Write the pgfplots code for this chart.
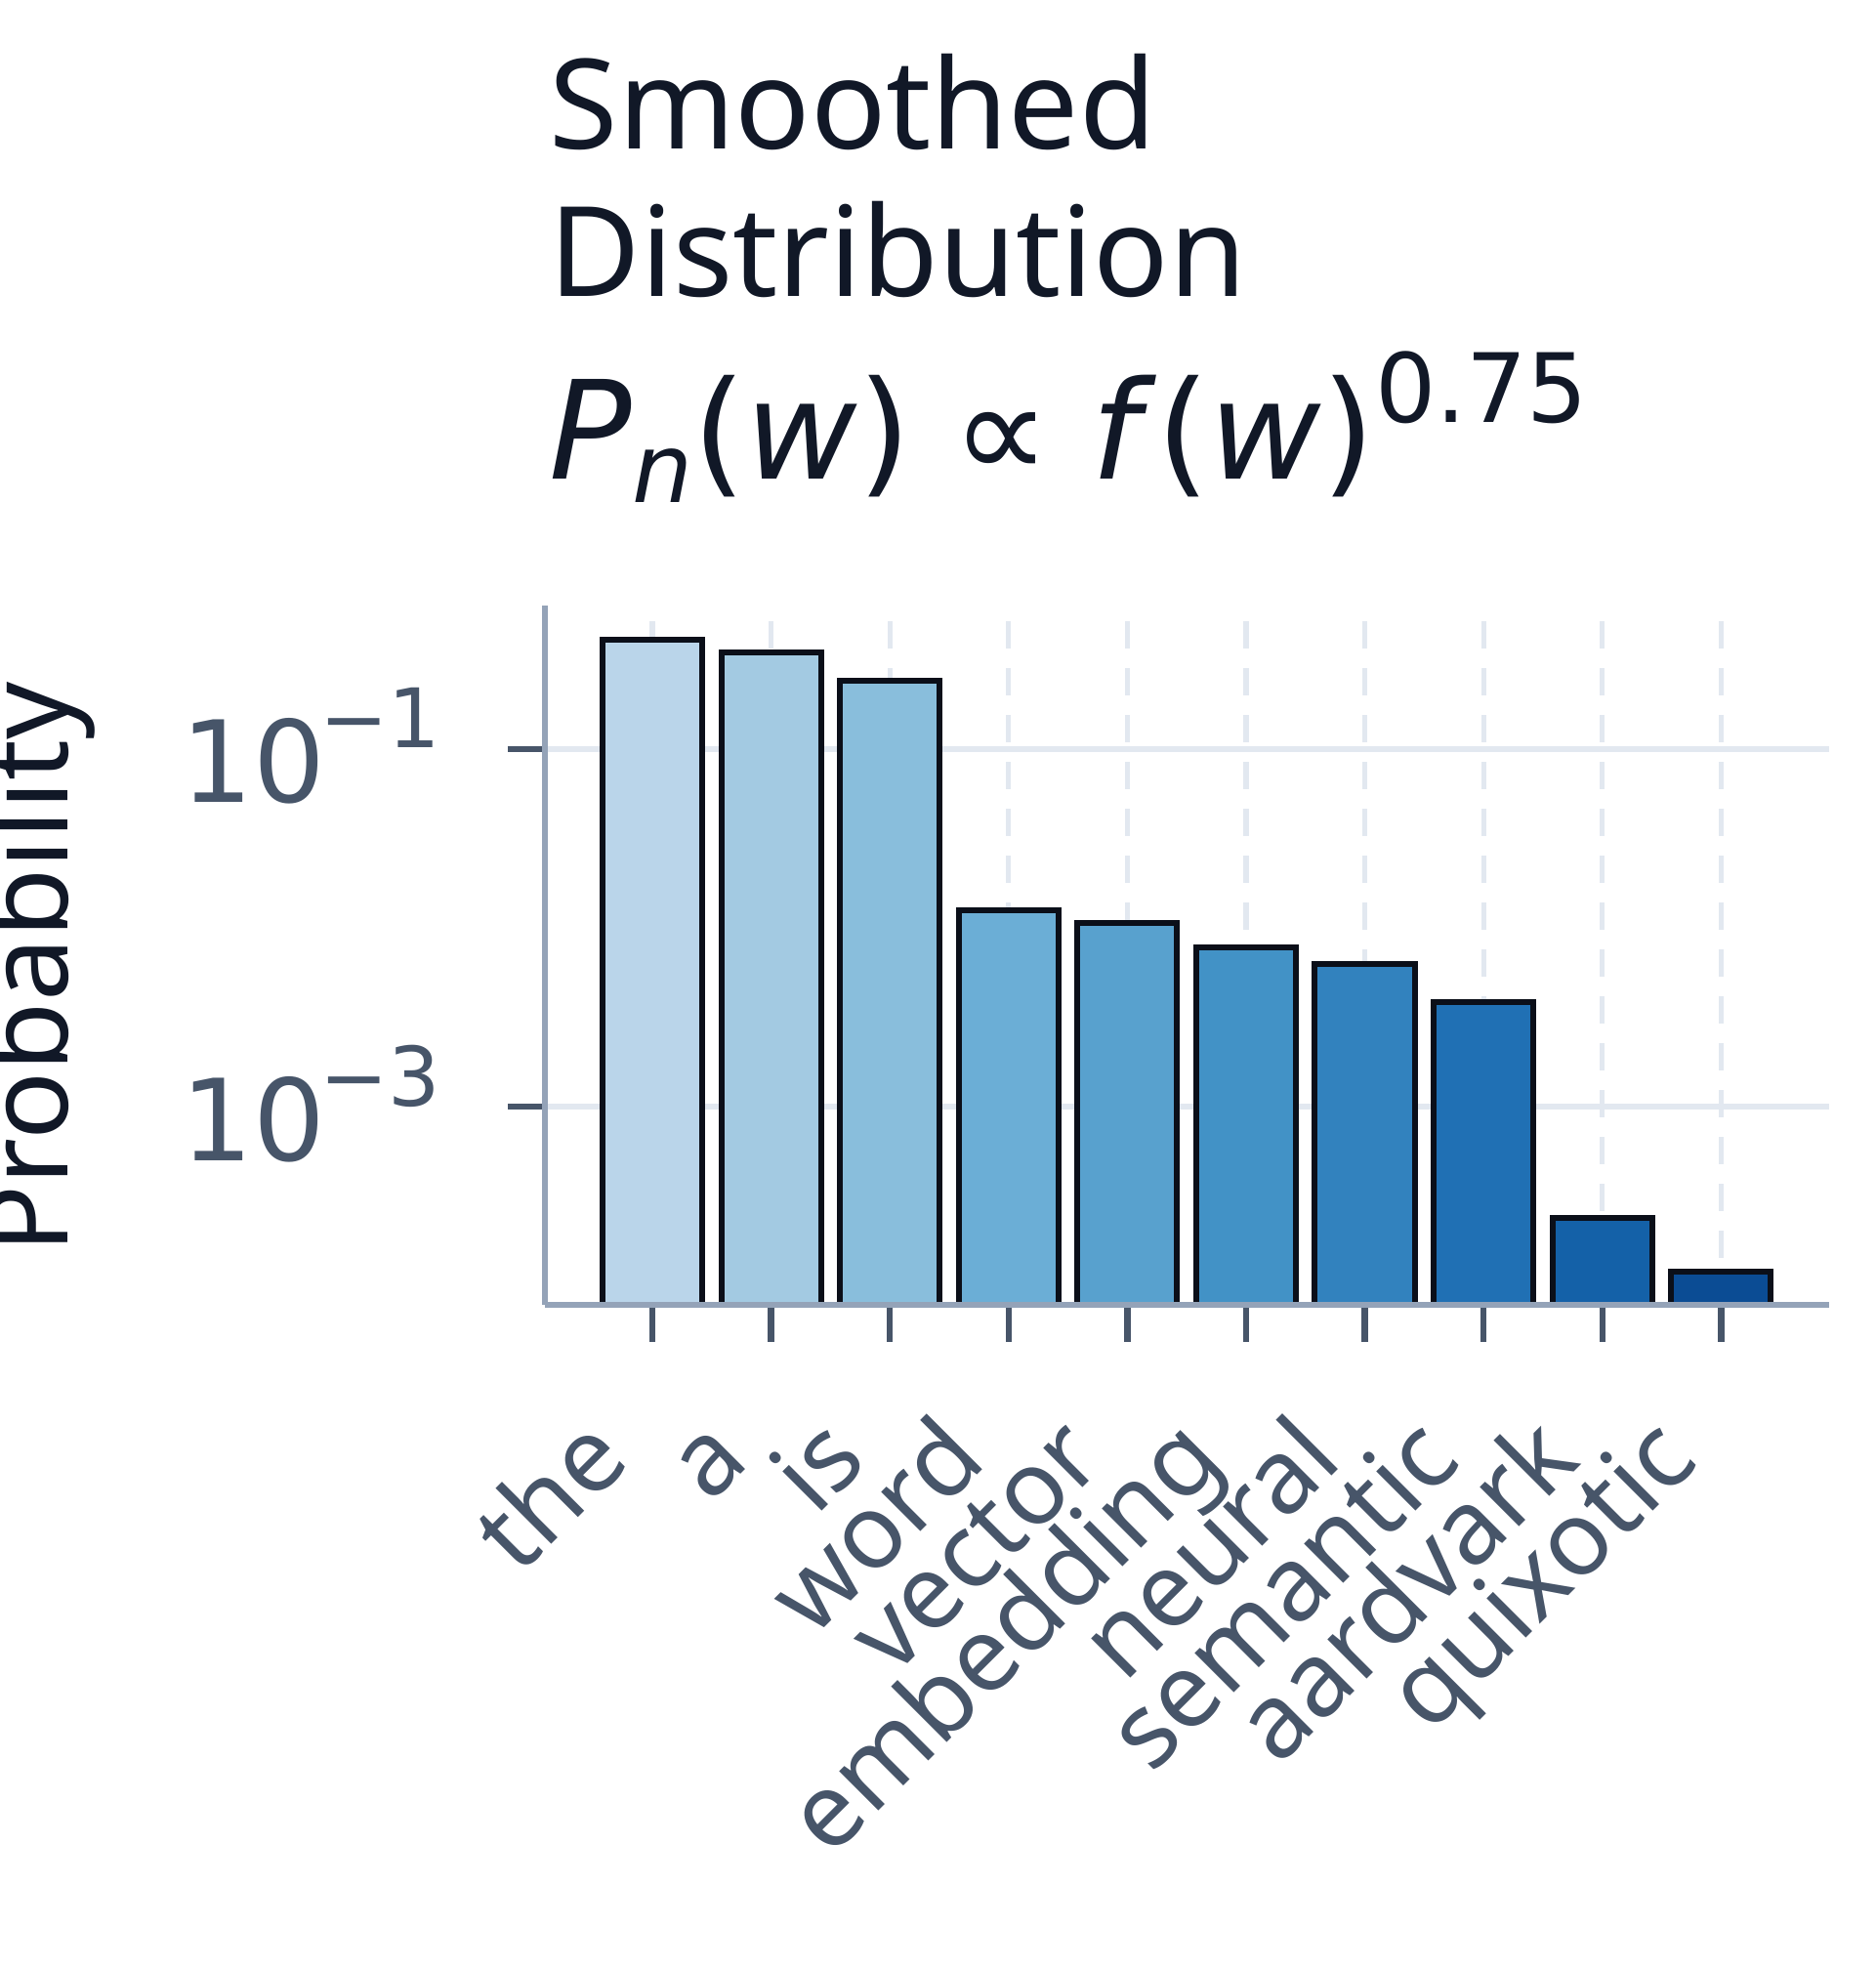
\documentclass[border=0pt]{standalone}
\usepackage{fontspec}
\setmainfont{Noto Sans}
\newfontfamily\dejavu{DejaVu Sans}
\usepackage{pgfplots}
\pgfplotsset{compat=1.18}

\definecolor{titlec}{HTML}{111827}
\definecolor{tickc}{HTML}{475569}
\definecolor{axisc}{HTML}{94A3B8}
\definecolor{gridc}{HTML}{E2E8F0}
\definecolor{edge}{HTML}{0B0F19}
\definecolor{b1}{HTML}{BAD5EA}
\definecolor{b2}{HTML}{A3CAE2}
\definecolor{b3}{HTML}{89BEDC}
\definecolor{b4}{HTML}{6BAED6}
\definecolor{b5}{HTML}{58A1CE}
\definecolor{b6}{HTML}{4292C6}
\definecolor{b7}{HTML}{3282BE}
\definecolor{b8}{HTML}{2070B4}
\definecolor{b9}{HTML}{1461A8}
\definecolor{b10}{HTML}{0B4C94}

\pgfplotsset{
  wbar/.style={ybar, bar shift=0pt, bar width=0.84, draw=edge, line width=1.5pt, fill=#1},
}

\newcommand{\tenpow}[1]{{\dejavu 10\hspace{-0.05em}\raisebox{14pt}{\fontsize{21}{21}\selectfont −#1}}}

\begin{document}
\begin{tikzpicture}
\begin{axis}[
  at={(0,0)}, anchor=south west,
  width=328.75pt, height=179pt, scale only axis,
  ymode=log, log origin=infty,
  xmin=-0.905, xmax=9.91,
  ymin=7.78e-5, ymax=0.635,
  axis x line*=bottom, axis y line*=left,
  axis line style={-, color=axisc, line width=1.3pt},
  xtick={0,...,9},
  xticklabels={the,a,is,word,vector,embedding,neural,semantic,aardvark,quixotic},
  ytick={0.001,0.1},
  yticklabels={\tenpow{3},\tenpow{1}},
  yminorticks=false,
  tick align=outside,
  major tick length=9.5pt,
  tick style={color=tickc, line width=1.6pt},
  xmajorgrids, ymajorgrids,
  y grid style={gridc, line width=1.5pt},
  x grid style={gridc, line width=1.3pt, dash pattern=on 7pt off 5pt},
  xticklabel style={xshift=-5pt, yshift=-31pt, rotate=45, anchor=base east,
    inner sep=0pt, font=\fontsize{26.5}{26.5}\selectfont, color=tickc},
  yticklabel style={xshift=-17pt, yshift=-13.75pt, anchor=base east,
    inner sep=0pt, font=\fontsize{29}{29}\selectfont, color=tickc},
]
\addplot[wbar=b1] coordinates {(0,0.41)};
\addplot[wbar=b2] coordinates {(1,0.347)};
\addplot[wbar=b3] coordinates {(2,0.24)};
\addplot[wbar=b4] coordinates {(3,0.0125)};
\addplot[wbar=b5] coordinates {(4,0.0106)};
\addplot[wbar=b6] coordinates {(5,0.00774)};
\addplot[wbar=b7] coordinates {(6,0.0063)};
\addplot[wbar=b8] coordinates {(7,0.00386)};
\addplot[wbar=b9] coordinates {(8,0.000237)};
\addplot[wbar=b10] coordinates {(9,0.000119)};
\draw[axisc, line width=1.3pt] (rel axis cs:0,0) -- (rel axis cs:1,0);
\end{axis}

% titles
\node[anchor=base west, inner sep=0pt, color=titlec, font=\fontsize{32}{32}\selectfont]
  at (1pt,295.9pt) {Smoothed};
\node[anchor=base west, inner sep=0pt, color=titlec, font=\fontsize{32}{32}\selectfont]
  at (1pt,258pt) {Distribution};
\node[anchor=base west, inner sep=0pt, color=titlec]
  at (1pt,211.25pt) {\dejavu\fontsize{35}{35}\selectfont
  \textit{P}\raisebox{-5.75pt}{\fontsize{24.5}{24.5}\selectfont\textit{n}}(\textit{w})\hspace{0.3em}∝\hspace{0.3em}\textit{f}(\textit{w})\raisebox{14.5pt}{\fontsize{24.5}{24.5}\selectfont 0.75}};
\node[rotate=90, anchor=base, inner sep=0pt, color=titlec, font=\fontsize{29}{29}\selectfont]
  at (-122pt,86.25pt) {Probability};

\pgfresetboundingbox
\path[use as bounding box] (-139.5pt,-170pt) rectangle (340.5pt,334pt);
\end{tikzpicture}
\end{document}
